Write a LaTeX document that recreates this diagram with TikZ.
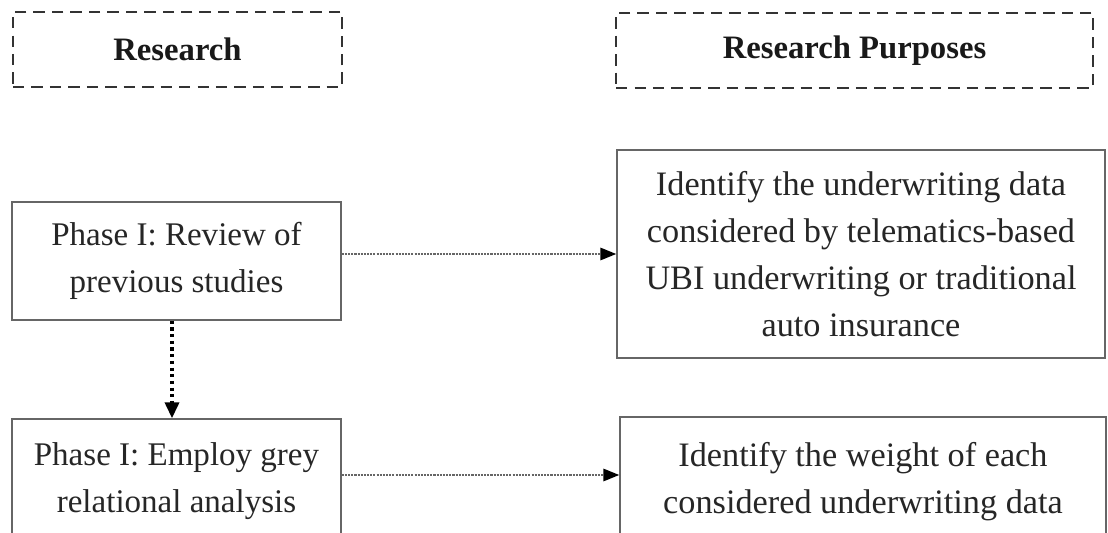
\documentclass[tikz,border=0pt]{standalone}
\usepackage{fontspec}
\setmainfont{Liberation Serif}
\usetikzlibrary{arrows.meta}

\begin{document}
\begin{tikzpicture}[
  x=0.02cm, y=-0.02cm,
  head_box/.style={draw=black!80, line width=1.6pt, dash pattern=on 6.5pt off 4pt, inner sep=0pt, minimum height=1.5cm, font=\fontsize{18.6}{20}\selectfont\bfseries, text=black!90},
  phase_box/.style={draw=black!60, line width=0.9pt, inner sep=0pt, minimum width=6.58cm, align=center, font=\fontsize{18.8}{26.7}\selectfont, text=black!85},
  goal_box/.style={draw=black!60, line width=0.9pt, inner sep=0pt, align=center, font=\fontsize{19.5}{26.7}\selectfont, text=black!85},
  link/.style={draw=black!60, line width=1.1pt, dash pattern=on 1.2pt off 0.6pt, -{Triangle[length=9pt,width=7pt,color=black]}},
  down_link/.style={draw=black, line width=1.8pt, dotted, -{Triangle[length=9pt,width=8pt,color=black]}},
]
\useasboundingbox (0,0) rectangle (1108,533);
\clip (0,0) rectangle (1108,533);
\fill[white] (0,0) rectangle (1108,533);
% headers
\draw (177.5,49.5) node (H1) [head_box, minimum width=6.58cm] {Research};
\draw (854.5,50.5) node (H2) [head_box, minimum width=9.54cm] {Research Purposes};
% phases
\draw (176.5,261) node (P1) [phase_box, minimum height=2.36cm] {Phase I: Review of\\previous studies};
\draw (176.5,481) node (P2) [phase_box, minimum height=2.48cm] {Phase I: Employ grey\\relational analysis};
% purposes
\draw (861,254) node (G1) [goal_box, minimum width=9.76cm, minimum height=4.16cm] {Identify the underwriting data\\considered by telematics-based\\UBI underwriting or traditional\\auto insurance};
\draw (863,482) node (G2) [goal_box, minimum width=9.72cm, minimum height=2.6cm] {Identify the weight of each\\considered underwriting data};
\coordinate (A2) at (0,475);
% connectors
\draw[link] (P1.east |- G1.west) -- (G1.west);
\draw[link] (P2.east |- A2) -- (G2.west |- A2);
\draw[down_link] (P1.south -| 172,0) -- (P2.north -| 172,0);
\end{tikzpicture}
\end{document}
